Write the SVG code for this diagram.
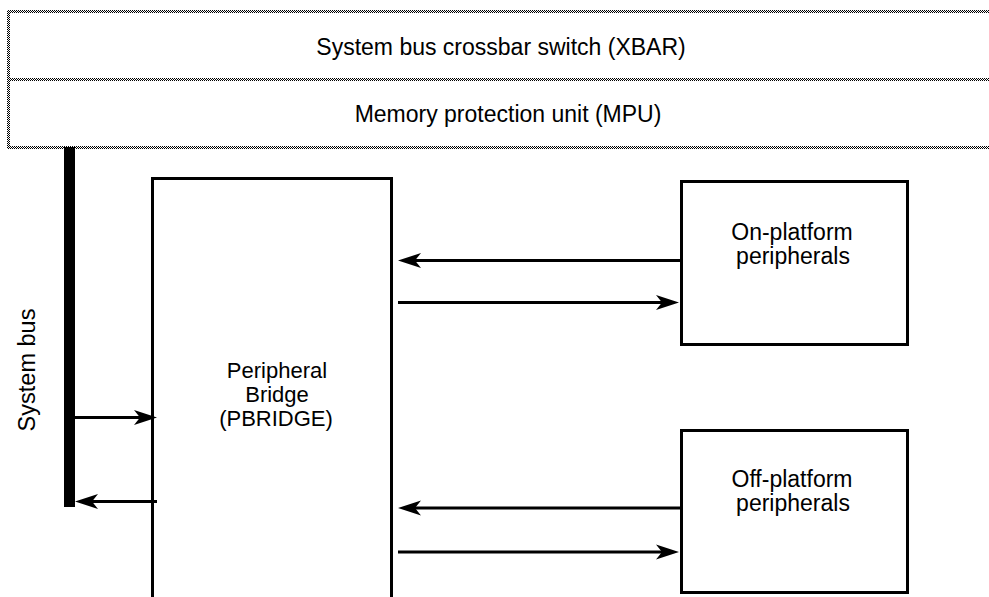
<svg xmlns="http://www.w3.org/2000/svg" width="989" height="597" viewBox="0 0 989 597">
<style>
  text { font-family: "Liberation Sans", Arial, Helvetica, sans-serif; font-size: 23px; fill: #000; text-anchor: middle; }
  .pb { font-size: 22px; }
  .box { fill: none; stroke: #000; stroke-width: 3; }
  .arrow { fill: none; stroke: #000; stroke-width: 3; marker-end: url(#head); }
  .band { fill: none; stroke: url(#dither); stroke-width: 3; }
</style>
<defs>
  <pattern id="dither" patternUnits="userSpaceOnUse" width="2" height="2">
    <rect x="0" y="0" width="2" height="2" fill="#fff"/>
    <rect x="0" y="0" width="1" height="1" fill="#000"/>
    <rect x="1" y="1" width="1" height="1" fill="#000"/>
  </pattern>
  <marker id="head" markerUnits="userSpaceOnUse" markerWidth="24" markerHeight="16" viewBox="0 0 24 16" refX="12" refY="8" orient="auto">
    <path d="M0,0.5 L23,8 L0,15.5 L6,8 Z" fill="#000"/>
  </marker>
</defs>
<g id="xbar">
  <rect class="band" x="8.5" y="11.5" width="990" height="68"/>
  <text x="501" y="55">System bus crossbar switch (XBAR)</text>
</g>
<g id="mpu">
  <rect class="band" x="8.5" y="79.5" width="990" height="68"/>
  <text x="508" y="122">Memory protection unit (MPU)</text>
</g>
<g id="system-bus">
  <rect x="64" y="147" width="11" height="360" fill="#000"/>
  <text transform="translate(35,370) rotate(-90)" style="font-size:23.5px">System bus</text>
</g>
<g id="pbridge">
  <path class="box" d="M152.5,597 V178.5 H391.5 V597"/>
  <text class="pb" x="277" y="378">Peripheral</text>
  <text class="pb" x="277" y="402">Bridge</text>
  <text class="pb" x="276" y="426">(PBRIDGE)</text>
</g>
<g id="on-platform">
  <rect class="box" x="681.5" y="181.5" width="226" height="163"/>
  <text x="792" y="240">On-platform</text>
  <text x="793" y="264">peripherals</text>
</g>
<g id="off-platform">
  <rect class="box" x="681.5" y="430.5" width="226" height="162"/>
  <text x="792" y="487">Off-platform</text>
  <text x="793" y="511">peripherals</text>
</g>
<g id="connectors">
  <line class="arrow" x1="681" y1="260.5" x2="409" y2="260.5"/>
  <line class="arrow" x1="398" y1="302.5" x2="668" y2="302.5"/>
  <line class="arrow" x1="681" y1="508" x2="409" y2="508"/>
  <line class="arrow" x1="398" y1="552" x2="668" y2="552"/>
  <line class="arrow" x1="75" y1="417.5" x2="146" y2="417.5"/>
  <line class="arrow" x1="157" y1="501.5" x2="86" y2="501.5"/>
</g>
</svg>
